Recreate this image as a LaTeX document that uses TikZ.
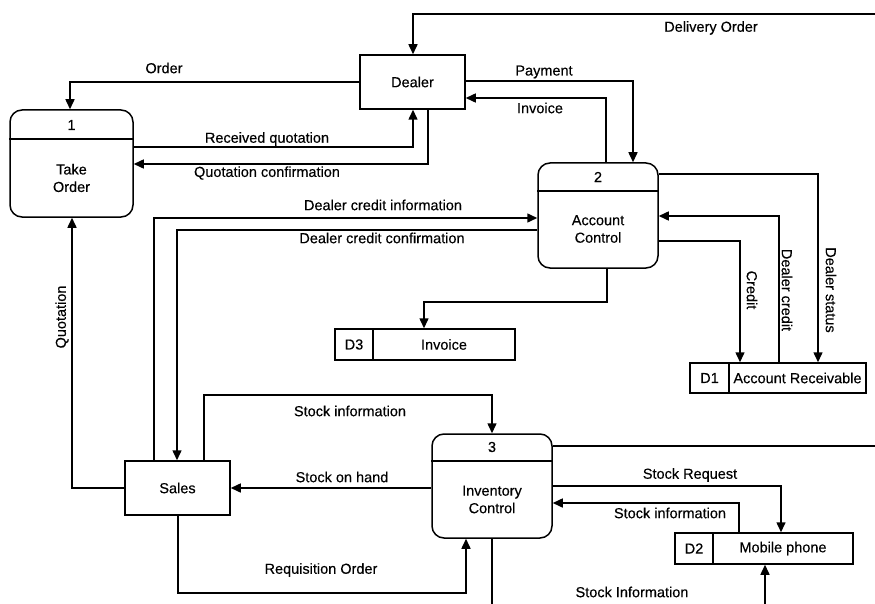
\documentclass[tikz,border=0pt]{standalone}
\usepackage{fontspec}
\setmainfont{Liberation Sans}
\newfontfamily\dfdfont{Liberation Sans}[FakeBold=0.3]
\usetikzlibrary{arrows.meta}
\begin{document}
\begin{tikzpicture}[x=1pt,y=-1pt,
  every node/.style={font=\dfdfont\fontsize{14.5}{17.5}\selectfont, inner sep=0pt},
  line/.style={line width=1.5pt},
  flow/.style={line width=1.5pt, -{Triangle[length=10pt,width=9pt]}},
  entity/.style={draw, line width=1.5pt, rectangle},
  proc/.style={draw, line width=1.5pt, rectangle, rounded corners=12pt},
  store/.style={draw, line width=1.5pt, rectangle},
  vlbl/.style={rotate=-90},
  ulbl/.style={rotate=90}
]
\path[use as bounding box] (0,0) rectangle (875,604);

% external entities
\node[entity, minimum width=105pt, minimum height=54pt] (dealer) at (412.5,82) {Dealer};
\node[entity, minimum width=105pt, minimum height=54pt] (sales) at (177.5,488) {Sales};

% process 1
\node[proc, minimum width=123pt, minimum height=107pt] (p1) at (71.5,163.5) {};
\draw[line] (p1.west |- 0,139) -- (p1.east |- 0,139);
\node (p1n) at (71.5,125) {1};
\node[align=center] (p1t) at (71.5,178) {Take\\Order};

% process 2
\node[proc, minimum width=120pt, minimum height=105pt] (p2) at (598,215.5) {};
\draw[line] (p2.west |- 0,191) -- (p2.east |- 0,191);
\node (p2n) at (598,177) {2};
\node[align=center] (p2t) at (598,229) {Account\\Control};

% process 3
\node[proc, minimum width=120pt, minimum height=104pt] (p3) at (492,486) {};
\draw[line] (p3.west |- 0,461) -- (p3.east |- 0,461);
\node (p3n) at (492,447) {3};
\node[align=center] (p3t) at (492,499.5) {Inventory\\Control};

% data stores
\node[store, minimum width=180pt, minimum height=31pt] (d3) at (425,344.5) {};
\draw[line] (373,0 |- d3.north) -- (373,0 |- d3.south);
\node (d3id) at (354,344.5) {D3};
\node (d3t) at (444,344.5) {Invoice};

\node[store, minimum width=176pt, minimum height=30pt] (d1) at (778,378) {};
\draw[line] (729,0 |- d1.north) -- (729,0 |- d1.south);
\node (d1id) at (709.5,378) {D1};
\node (d1t) at (797.5,378) {Account Receivable};

\node[store, minimum width=178pt, minimum height=31pt] (d2) at (764,548.5) {};
\draw[line] (713,0 |- d2.north) -- (713,0 |- d2.south);
\node (d2id) at (694,548.5) {D2};
\node (d2t) at (783,548.5) {Mobile phone};

% free ends at the border
\coordinate (doIn) at (875,14);
\coordinate (p3out) at (875,446);
\coordinate (p3down) at (492,604);
\coordinate (d2in) at (765,604);

% flows
\draw[flow] (doIn) -- (413,14) -- (413,0 |- dealer.north);
\draw[flow] (dealer.west) -- (70,82) -- (70,0 |- p1.north);
\draw[flow] (p1.east |- 0,147) -- (413,147) -- (413,0 |- dealer.south);
\draw[flow] (428,0 |- dealer.south) -- (428,164) -- (p1.east |- 0,164);
\draw[flow] (dealer.east |- 0,81) -- (633,81) -- (633,0 |- p2.north);
\draw[flow] (606,0 |- p2.north) -- (606,98) -- (dealer.east |- 0,98);
\draw[flow] (p2.east |- 0,174) -- (818,174) -- (818,0 |- d1.north);
\draw[flow] (779,0 |- d1.north) -- (779,216) -- (p2.east |- 0,216);
\draw[flow] (p2.east |- 0,241) -- (740,241) -- (740,0 |- d1.north);
\draw[flow] (154,0 |- sales.north) -- (154,218) -- (p2.west |- 0,218);
\draw[flow] (p2.west |- 0,230) -- (177,230) -- (177,0 |- sales.north);
\draw[flow] (607,0 |- p2.south) -- (607,302) -- (424,302) -- (424,0 |- d3.north);
\draw[flow] (sales.west) -- (72,488) -- (72,0 |- p1.south);
\draw[flow] (204,0 |- sales.north) -- (204,395) -- (492,395) -- (492,0 |- p3.north);
\draw[flow] (p3.west |- 0,488) -- (sales.east |- 0,488);
\draw[flow] (178,0 |- sales.south) -- (178,593) -- (466,593) -- (466,0 |- p3.south);
\draw[line] (p3.east |- 0,446) -- (p3out);
\draw[flow] (p3.east |- 0,486) -- (781,486) -- (781,0 |- d2.north);
\draw[flow] (739,0 |- d2.north) -- (739,503) -- (p3.east |- 0,503);
\draw[line] (492,0 |- p3.south) -- (p3down);
\draw[flow] (d2in) -- (765,0 |- d2.south);

% flow labels
\node (lDO) at (711,28) {Delivery Order};
\node (lOr) at (164,68) {Order};
\node (lRQ) at (267,139) {Received quotation};
\node (lQC) at (267,173) {Quotation confirmation};
\node (lPa) at (544,72) {Payment};
\node (lIn) at (540,108) {Invoice};
\node (lDCI) at (383,205) {Dealer credit information};
\node (lDCC) at (382,238) {Dealer credit confirmation};
\node[vlbl] (lCr) at (752,290) {Credit};
\node[vlbl] (lDC) at (787,290) {Dealer credit};
\node[vlbl] (lDS) at (831,290) {Dealer status};
\node[ulbl] (lQu) at (62,317) {Quotation};
\node (lSI1) at (350,411) {Stock information};
\node (lSH) at (342,477) {Stock on hand};
\node (lRO) at (321,570) {Requisition Order};
\node (lSR) at (690,475) {Stock Request};
\node (lSI2) at (670,513) {Stock information};
\node (lSI3) at (632,592) {Stock Information};
\end{tikzpicture}
\end{document}
